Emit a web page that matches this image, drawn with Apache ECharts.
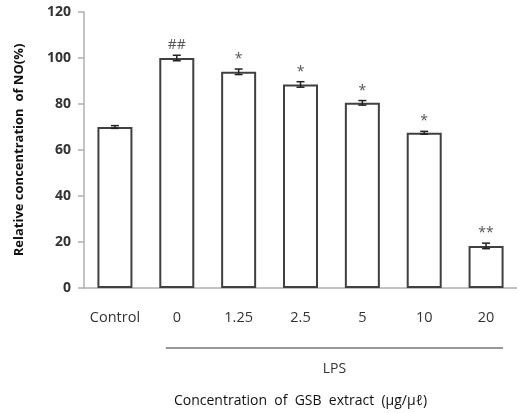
<!DOCTYPE html>
<html><head><meta charset="utf-8">
<script src="https://cdn.jsdelivr.net/npm/echarts@6/dist/echarts.min.js"></script>
<style>html,body{margin:0;padding:0;background:#fff}#c{width:517px;height:413px}</style>
</head><body><div id="c"></div>
<script>
const categories = ['Control', '0', '1.25', '2.5', '5', '10', '20'];
const values = [70, 100, 94, 88.5, 80.5, 67.5, 18.3];
const errors = [0.6, 1.2, 1.2, 1.2, 1.0, 0.6, 1.2];
const marks = ['', '##', '*', '*', '*', '*', '**'];
const yTicks = [0, 20, 40, 60, 80, 100, 120];
const groupLabel = 'LPS';
const groupStart = 1, groupEnd = 6;

const font = '"Open Sans", "Noto Sans", sans-serif';
const chart = echarts.init(document.getElementById('c'), null, {renderer: 'canvas'});
chart.setOption({
  animation: false,
  backgroundColor: '#fff',
  grid: {left: 84, right: 0, top: 12, bottom: 124.5},
  xAxis: {
    type: 'category', data: categories,
    axisLine: {lineStyle: {color: '#b0b0b0', width: 1.5}},
    axisTick: {show: false},
    axisLabel: {color: '#333', fontFamily: font, fontSize: 14.5, margin: 22, interval: 0, hideOverlap: false},
    name: 'Concentration  of  GSB  extract  (μg/μℓ)',
    nameLocation: 'middle', nameGap: 106,
    nameTextStyle: {color: '#111', fontFamily: font, fontSize: 14}
  },
  yAxis: {
    type: 'value', min: yTicks[0], max: yTicks[yTicks.length - 1], interval: 20,
    splitLine: {show: false},
    axisLine: {show: true, lineStyle: {color: '#b0b0b0', width: 1.5}},
    axisTick: {show: true, length: 6, lineStyle: {color: '#b0b0b0', width: 1.5}},
    axisLabel: {color: '#333', fontFamily: font, fontSize: 14, fontWeight: 'bold', margin: 13},
    name: 'Relative concentration  of NO(%)',
    nameLocation: 'middle', nameGap: 58, nameRotate: 90,
    nameTextStyle: {color: '#111', fontFamily: font, fontSize: 13, fontWeight: 'bold'}
  },
  series: [
    {
      type: 'bar', data: values, barWidth: 35,
      itemStyle: {color: '#fff', borderColor: '#404040', borderWidth: 2}
    },
    {
      type: 'custom',
      data: values.map((v, i) => [i, v, errors[i], marks[i]]),
      renderItem: function (params, api) {
        const x = api.value(0), v = api.value(1), e = api.value(2);
        const top = api.coord([x, v + e]);
        const bot = api.coord([x, v - e]);
        const hw = 4;
        const children = [
          {type: 'line', shape: {x1: top[0], y1: top[1], x2: bot[0], y2: bot[1]}, style: {stroke: '#222', lineWidth: 1.5}},
          {type: 'line', shape: {x1: top[0] - hw, y1: top[1], x2: top[0] + hw, y2: top[1]}, style: {stroke: '#222', lineWidth: 1.5}},
          {type: 'line', shape: {x1: bot[0] - hw, y1: bot[1], x2: bot[0] + hw, y2: bot[1]}, style: {stroke: '#222', lineWidth: 1.5}},
          {type: 'text', style: {text: marks[params.dataIndex], x: top[0], y: top[1] - 3, align: 'center', verticalAlign: 'bottom',
            fill: '#555', font: '14px ' + font}}
        ];
        return {type: 'group', children: children};
      },
      z: 5
    }
  ]
});
const p1 = chart.convertToPixel({xAxisIndex: 0}, groupStart);
const p2 = chart.convertToPixel({xAxisIndex: 0}, groupEnd);
const x1 = p1 - 11, x2 = p2 + 17;
chart.setOption({
  graphic: [
    {type: 'line', shape: {x1: x1, y1: 348, x2: x2, y2: 348}, style: {stroke: '#333', lineWidth: 1}},
    {type: 'text', x: (x1 + x2) / 2, y: 369, style: {text: groupLabel, align: 'center', verticalAlign: 'middle', fill: '#333', font: '14px ' + font}}
  ]
});
</script></body></html>
